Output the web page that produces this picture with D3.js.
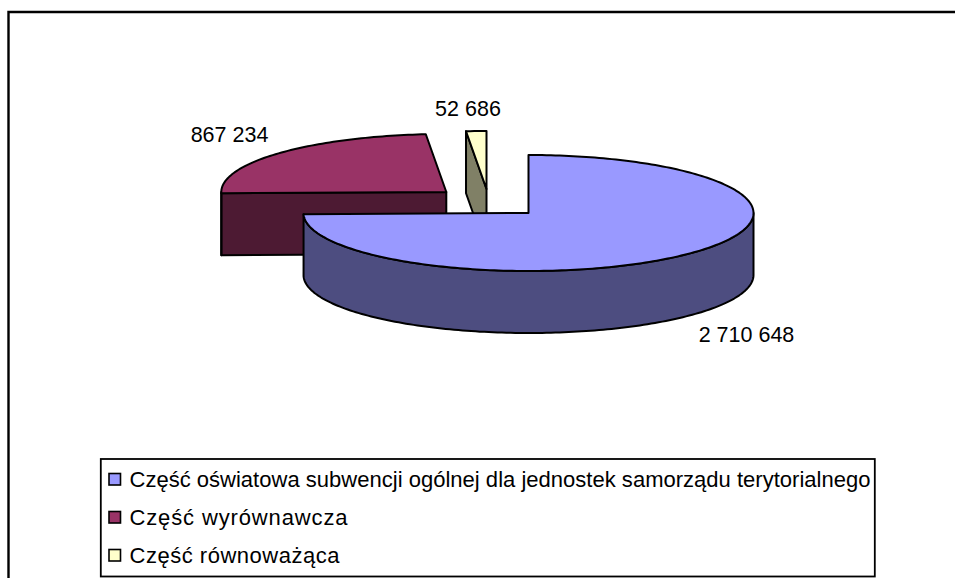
<!DOCTYPE html>
<html>
<head>
<meta charset="utf-8">
<script src="https://d3js.org/d3.v7.min.js"></script>
<style>
  html, body { margin: 0; padding: 0; background: #fff; }
  svg { display: block; }
  text { font-family: "Liberation Sans", Arial, sans-serif; fill: #000; }
</style>
</head>
<body>
<div id="chart"></div>
<script>
// chart data
var categories = [
  "Część oświatowa subwencji ogólnej dla jednostek samorządu terytorialnego",
  "Część wyrównawcza",
  "Część równoważąca"
];
var values = [2710648, 867234, 52686];
var valueLabels = ["2 710 648", "867 234", "52 686"];
var topColors = ["#9999ff", "#993366", "#ffffcc"];
var sideColors = ["#4d4d80", "#4d1a33", "#808066"];

var width = 955, height = 578;
var rx = 225, ry = 58, depth = 62;

// where each exploded slice has its tip, and where its label goes
var tips = [[528.5, 213], [446.3, 192], [486.5, 189]];
var labelPos = [[746.5, 342], [229.5, 142], [468, 116]];
// the original legend text is spaced a bit wider than the font
var legendTextWidths = [741, 218, 210];

var svg = d3.select("#chart").append("svg")
    .attr("width", width)
    .attr("height", height);

var line = d3.line();

// outer frame, only left and top are in the picture
svg.append("path")
    .attr("d", line([[8.5, height], [8.5, 12], [width, 12]]))
    .attr("fill", "none").attr("stroke", "#000").attr("stroke-width", 2.4);

// clockwise from 12 o'clock, same as the original
var slices = d3.pie().sort(null)(values);

function rim(tip, a) {
  return [tip[0] + rx * Math.sin(a), tip[1] - ry * Math.cos(a)];
}
function arcPoints(tip, a0, a1) {
  var n = Math.max(2, Math.ceil((a1 - a0) / 0.02));
  return d3.range(n + 1).map(function(i) { return rim(tip, a0 + (a1 - a0) * i / n); });
}
function down(p) { return [p[0], p[1] + depth]; }

function poly(pts, fill) {
  svg.append("path")
    .attr("d", line(pts) + "Z")
    .attr("fill", fill)
    .attr("stroke", "#000")
    .attr("stroke-width", 2)
    .attr("stroke-linejoin", "round");
}

function drawSlice(i) {
  var s = slices[i], tip = tips[i];
  var start = rim(tip, s.startAngle), end = rim(tip, s.endAngle);

  // cut faces, only the ones turned towards us
  if (Math.sin(s.startAngle) < -1e-6) poly([tip, start, down(start), down(tip)], sideColors[i]);
  if (Math.sin(s.endAngle) > 1e-6) poly([tip, end, down(end), down(tip)], sideColors[i]);

  // outer wall, only the part facing us (between 3 and 9 o'clock)
  var a0 = Math.max(s.startAngle, Math.PI / 2), a1 = Math.min(s.endAngle, Math.PI * 1.5);
  if (a1 > a0) {
    var wall = arcPoints(tip, a0, a1);
    poly(wall.concat(wall.map(down).reverse()), sideColors[i]);
  }

  // top
  poly([tip].concat(arcPoints(tip, s.startAngle, s.endAngle)), topColors[i]);
}

// back slices first
drawSlice(2);
drawSlice(1);
drawSlice(0);

// value labels
svg.selectAll("text.value")
  .data(valueLabels)
  .enter().append("text")
    .attr("class", "value")
    .attr("x", function(d, i) { return labelPos[i][0]; })
    .attr("y", function(d, i) { return labelPos[i][1]; })
    .attr("text-anchor", "middle")
    .style("font-size", "21.5px")
    .text(function(d) { return d; });

// legend
var legend = svg.append("g");
legend.append("rect")
    .attr("x", 100.8).attr("y", 459)
    .attr("width", 774).attr("height", 117.5)
    .attr("fill", "#fff").attr("stroke", "#000").attr("stroke-width", 1.8);

var rowY = d3.scalePoint().domain(categories).range([479, 555]);

var rows = legend.selectAll("g.row")
  .data(categories)
  .enter().append("g")
    .attr("class", "row")
    .attr("transform", function(d) { return "translate(0," + rowY(d) + ")"; });

rows.append("rect")
    .attr("x", 109).attr("y", -5.5)
    .attr("width", 11.5).attr("height", 11.5)
    .attr("fill", function(d, i) { return topColors[i]; })
    .attr("stroke", "#000").attr("stroke-width", 1.6);

rows.append("text")
    .attr("x", 129.5).attr("y", 8)
    .attr("textLength", function(d, i) { return legendTextWidths[i]; })
    .attr("lengthAdjust", "spacing")
    .style("font-size", "22px")
    .text(function(d) { return d; });
</script>
</body>
</html>
